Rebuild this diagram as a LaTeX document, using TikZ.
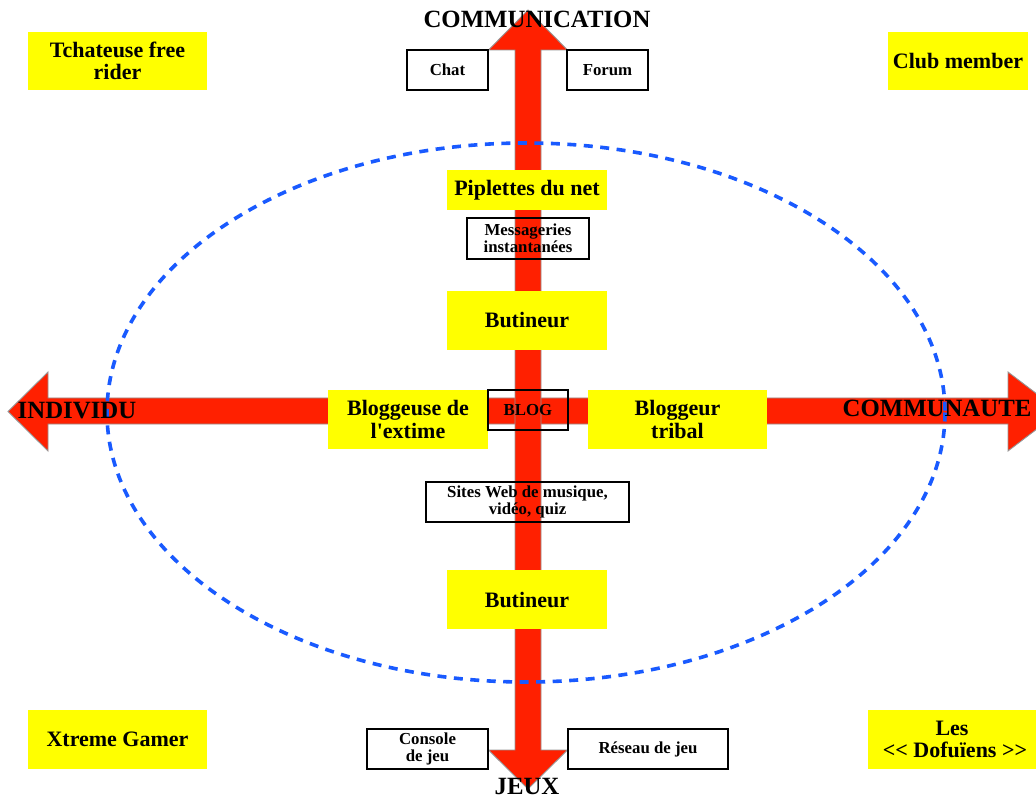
\documentclass[tikz,border=0pt]{standalone}
\usepackage{fontspec}
\setmainfont{Liberation Serif}[Ligatures=TeXOff]
\definecolor{arrred}{RGB}{255,32,0}
\definecolor{arrgray}{RGB}{150,150,150}
\definecolor{ellblue}{RGB}{25,90,255}
\definecolor{yel}{RGB}{255,255,0}
\begin{document}
\begin{tikzpicture}[x=1pt,y=-1pt,
  ybox/.style={fill=yel,draw=none,inner sep=0pt,align=center,font=\fontsize{22}{22.5}\selectfont\bfseries},
  wbox/.style={draw=black,line width=1.3pt,inner sep=0pt,align=center,font=\fontsize{16.8}{16.5}\selectfont\bfseries},
  axlab/.style={inner sep=0pt,font=\fontsize{24.8}{25}\selectfont\bfseries},
  bigarrow/.style={fill=arrred,draw=arrgray,line width=0.9pt}]
\useasboundingbox (0,0) rectangle (1036,799);
\fill[white] (0,0) rectangle (1036,799);
% horizontal double arrow
\path[bigarrow] (8,411.5) -- (48,372) -- (48,398) -- (1008,398) -- (1008,372) -- (1060,411.5)
  -- (1008,451) -- (1008,424) -- (48,424) -- (48,451) -- cycle;
% vertical double arrow
\path[bigarrow] (528,10) -- (567.5,50) -- (541,50) -- (541,750) -- (567.5,750) -- (528,789)
  -- (488.5,750) -- (515,750) -- (515,50) -- (488.5,50) -- cycle;
% dashed ellipse
\draw[ellblue,line width=3.6pt,dash pattern=on 9pt off 7.5pt] (526,412.5) ellipse [x radius=419, y radius=269.5];
% axis labels
\node[axlab] (comm) at (537,19) {COMMUNICATION};
\node[axlab] (indiv) at (77,411) {INDIVIDU};
\node[axlab] (commu) at (937,408) {COMMUNAUTE};
\node[axlab] (jeux) at (527,786) {JEUX};
% yellow boxes
\node[ybox,minimum width=179pt,minimum height=58pt] (tchat) at (117.5,61) {Tchateuse free\\rider};
\node[ybox,minimum width=140pt,minimum height=58pt] (club) at (958,61) {Club member};
\node[ybox,minimum width=160pt,minimum height=40pt] (pip) at (527,190) {Piplettes du net};
\node[ybox,minimum width=160pt,minimum height=59pt] (but1) at (527,320.5) {Butineur};
\node[ybox,minimum width=160pt,minimum height=59pt] (blogse) at (408,419.5) {Bloggeuse de\\l'extime};
\node[ybox,minimum width=179pt,minimum height=59pt] (blogr) at (677.5,419.5) {Bloggeur\\tribal};
\node[ybox,minimum width=160pt,minimum height=59pt] (but2) at (527,599.5) {Butineur};
\node[ybox,minimum width=179pt,minimum height=59pt] (xtreme) at (117.5,739.5) {Xtreme Gamer};
\node[ybox,minimum width=168pt,minimum height=59pt] (dofus) at (952,739.5) {Les\\\hspace*{6pt}{<}{<} Dofuïens {>}{>}};
% white / outlined boxes
\node[wbox,fill=white,minimum width=81pt,minimum height=40pt] (chat) at (447.5,70) {Chat};
\node[wbox,fill=white,minimum width=81pt,minimum height=40pt] (forum) at (607.5,70) {Forum};
\node[wbox,minimum width=122pt,minimum height=41pt] (msg) at (528,238.5) {Messageries\\instantanées};
\node[wbox,minimum width=80pt,minimum height=40pt] (blog) at (528,410) {BLOG};
\node[wbox,minimum width=203pt,minimum height=40pt] (sites) at (527.5,502) {Sites Web de musique,\\vidéo, quiz};
\node[wbox,fill=white,minimum width=121pt,minimum height=40pt] (console) at (427.5,749) {Console\\de jeu};
\node[wbox,fill=white,minimum width=160pt,minimum height=40pt] (reseau) at (648,749) {Réseau de jeu};
\end{tikzpicture}
\end{document}
